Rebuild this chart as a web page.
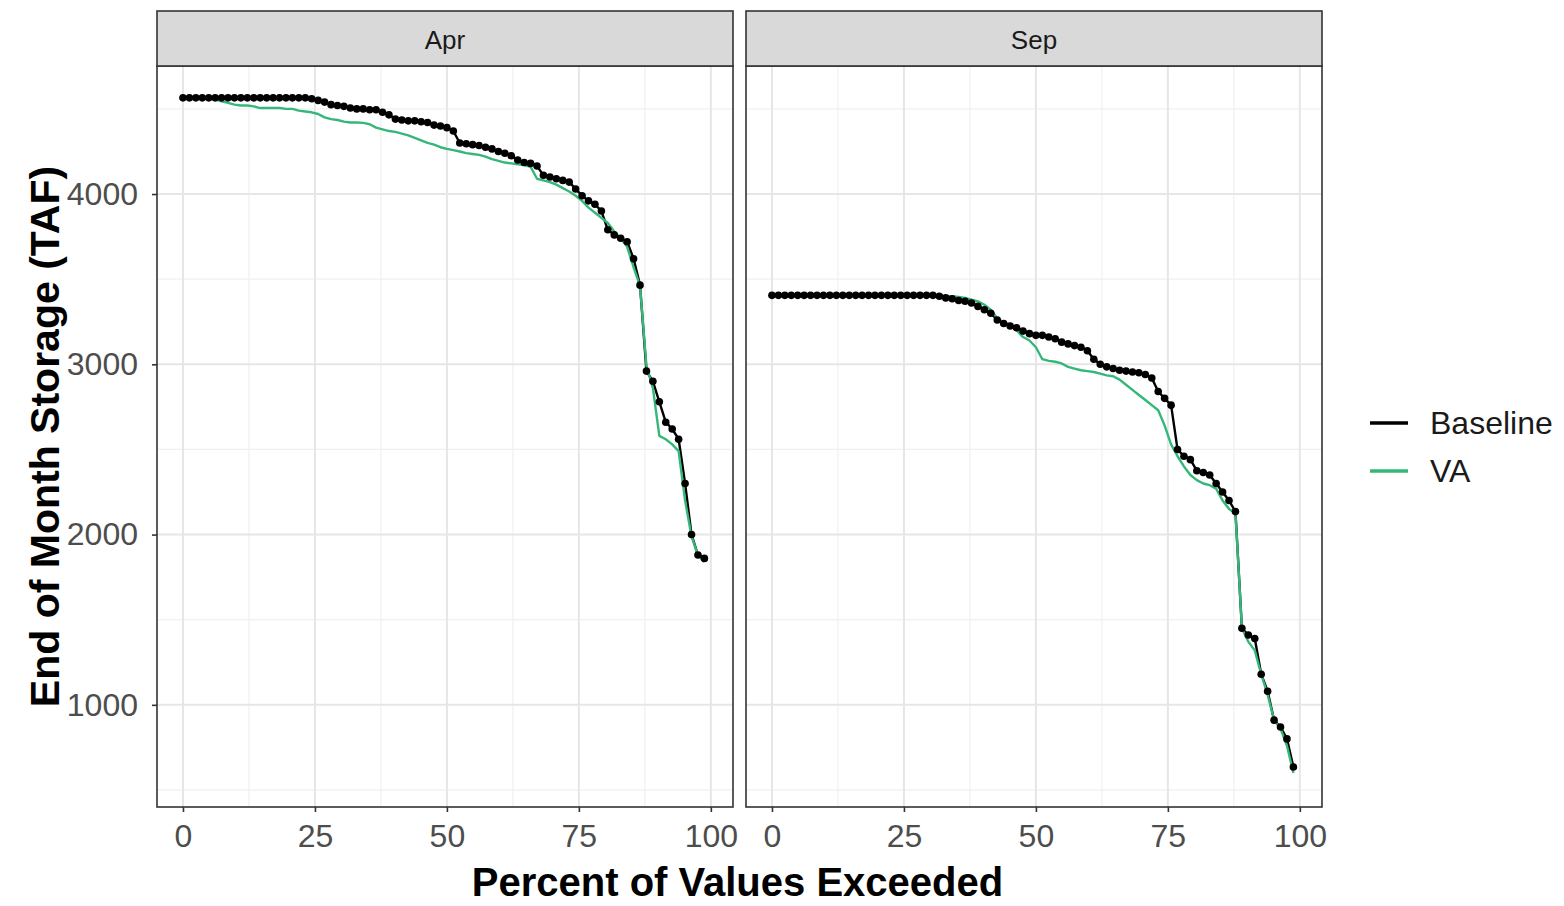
<!DOCTYPE html>
<html>
<head>
<meta charset="utf-8">
<script src="https://cdn.jsdelivr.net/npm/d3@7"></script>
<style>
  body { margin: 0; background: #fff; }
  text { font-family: "Liberation Sans", Arial, sans-serif; }
</style>
</head>
<body>
<div id="chartArea"></div>
<script>
// end-of-month storage (TAF), sorted high to low, one value per year
const months = ["Apr", "Sep"];
const seriesNames = ["Baseline", "VA"];
const seriesColors = ["#000000", "#35b779"];
const nYears = 82;

const aprBaseline = [
  4565, 4565, 4565, 4565, 4565, 4565, 4565, 4565, 4565, 4565,
  4565, 4565, 4565, 4565, 4565, 4565, 4565, 4565, 4565, 4565,
  4560, 4550, 4540, 4525, 4520, 4515, 4505, 4500, 4500, 4495,
  4495, 4480, 4465, 4440, 4435, 4430, 4430, 4425, 4420, 4405,
  4400, 4390, 4370, 4300, 4295, 4290, 4285, 4275, 4265, 4250,
  4240, 4225, 4200, 4185, 4180, 4165, 4110, 4100, 4090, 4080,
  4070, 4030, 3990, 3960, 3940, 3900, 3790, 3760, 3740, 3720,
  3620, 3465, 2960, 2900, 2780, 2660, 2620, 2560, 2300, 2000,
  1880, 1860
];
const aprVA = [
  4565, 4565, 4565, 4560, 4560, 4555, 4545, 4535, 4525, 4520,
  4520, 4515, 4505, 4505, 4505, 4505, 4500, 4500, 4490, 4485,
  4480, 4470, 4450, 4440, 4435, 4425, 4420, 4420, 4418, 4410,
  4390, 4380, 4370, 4365, 4355, 4345, 4330, 4315, 4300, 4290,
  4275, 4265, 4258, 4250, 4240, 4235, 4230, 4220, 4205, 4195,
  4185, 4180, 4175, 4170, 4160, 4090, 4080, 4070, 4055, 4035,
  4015, 3990, 3960, 3920, 3890, 3860, 3830, 3780, 3740, 3690,
  3570, 3460, 2990, 2860, 2580, 2560, 2530, 2490, 2200, 1990,
  1880, 1840
];
const sepBaseline = [
  3405, 3405, 3405, 3405, 3405, 3405, 3405, 3405, 3405, 3405,
  3405, 3405, 3405, 3405, 3405, 3405, 3405, 3405, 3405, 3405,
  3405, 3405, 3405, 3405, 3405, 3405, 3400, 3390, 3385, 3375,
  3370, 3360, 3340, 3320, 3300, 3260, 3240, 3225, 3215, 3195,
  3180, 3170, 3170, 3160, 3150, 3130, 3120, 3110, 3100, 3080,
  3030, 3000, 2985, 2975, 2965, 2960, 2955, 2950, 2940, 2920,
  2840, 2800, 2760, 2500, 2460, 2440, 2375, 2365, 2350, 2300,
  2250, 2200, 2135, 1450, 1410, 1390, 1180, 1080, 910, 870,
  800, 635
];
const sepVA = [
  3405, 3405, 3405, 3405, 3405, 3405, 3405, 3405, 3405, 3405,
  3405, 3405, 3405, 3405, 3405, 3405, 3405, 3405, 3405, 3405,
  3405, 3405, 3405, 3405, 3405, 3405, 3405, 3400, 3400, 3395,
  3390, 3380, 3370, 3350, 3320, 3270, 3245, 3235, 3200, 3160,
  3140, 3100, 3030, 3020, 3015, 3005, 2985, 2975, 2965, 2960,
  2955, 2945, 2935, 2930, 2910, 2880, 2850, 2820, 2790, 2760,
  2730, 2640, 2530, 2460, 2400, 2350, 2320, 2300, 2290, 2270,
  2200, 2150, 2125, 1450, 1370, 1320, 1180, 1060, 910, 860,
  760, 600
];

const xTicks = [0, 25, 50, 75, 100];
const yTicks = [1000, 2000, 3000, 4000];

(function() {
  const W = 1564;
  const H = 906;
  const panelW = 576;
  const panelLeft = [157, 746];
  const top = 66;
  const bottom = 807;
  const stripTop = 11;
  const ph = bottom - top;

  const panelData = {
    Apr: [aprBaseline, aprVA],
    Sep: [sepBaseline, sepVA]
  };

  const svg = d3
    .select("#chartArea")
    .append("svg")
    .attr("width", W)
    .attr("height", H);

  const xScale = d3
    .scaleLinear()
    .domain([-4.92, 104.2])
    .range([0, panelW]);

  const yScale = d3
    .scaleLinear()
    .domain([400, 4752])
    .range([ph, 0]);

  const line = d3
    .line()
    .x((d, i) => xScale((i * 100) / nYears))
    .y(d => yScale(d));

  months.forEach((m, k) => {
    const g = svg
      .append("g")
      .attr("transform", "translate(" + panelLeft[k] + "," + top + ")");

    // grid
    const minorX = [12.5, 37.5, 62.5, 87.5];
    const minorY = [500, 1500, 2500, 3500, 4500];
    g.selectAll(".minx")
      .data(minorX)
      .enter()
      .append("line")
      .attr("x1", d => xScale(d))
      .attr("x2", d => xScale(d))
      .attr("y1", 0)
      .attr("y2", ph)
      .attr("stroke", "#f0f0f0")
      .attr("stroke-width", 1.2);
    g.selectAll(".miny")
      .data(minorY)
      .enter()
      .append("line")
      .attr("x1", 0)
      .attr("x2", panelW)
      .attr("y1", d => yScale(d))
      .attr("y2", d => yScale(d))
      .attr("stroke", "#f0f0f0")
      .attr("stroke-width", 1.2);
    g.selectAll(".majx")
      .data(xTicks)
      .enter()
      .append("line")
      .attr("x1", d => xScale(d))
      .attr("x2", d => xScale(d))
      .attr("y1", 0)
      .attr("y2", ph)
      .attr("stroke", "#e6e6e6")
      .attr("stroke-width", 2);
    g.selectAll(".majy")
      .data(yTicks)
      .enter()
      .append("line")
      .attr("x1", 0)
      .attr("x2", panelW)
      .attr("y1", d => yScale(d))
      .attr("y2", d => yScale(d))
      .attr("stroke", "#e6e6e6")
      .attr("stroke-width", 2);

    // lines then baseline points
    const series = panelData[m];
    series.forEach((vals, s) => {
      g.append("path")
        .datum(vals)
        .attr("fill", "none")
        .attr("stroke", seriesColors[s])
        .attr("stroke-width", 2.4)
        .attr("stroke-linejoin", "round")
        .attr("d", line);
    });
    g.selectAll("circle")
      .data(series[0])
      .enter()
      .append("circle")
      .attr("cx", (d, i) => xScale((i * 100) / nYears))
      .attr("cy", d => yScale(d))
      .attr("r", 3.8)
      .attr("fill", "#000");

    // panel border
    g.append("rect")
      .attr("width", panelW)
      .attr("height", ph)
      .attr("fill", "none")
      .attr("stroke", "#333")
      .attr("stroke-width", 1.6);

    // strip
    g.append("rect")
      .attr("y", stripTop - top)
      .attr("width", panelW)
      .attr("height", top - stripTop)
      .attr("fill", "#d9d9d9")
      .attr("stroke", "#333")
      .attr("stroke-width", 1.6);
    g.append("text")
      .attr("x", panelW / 2)
      .attr("y", (stripTop - top) / 2)
      .attr("dy", "0.42em")
      .attr("text-anchor", "middle")
      .attr("font-size", 26)
      .attr("fill", "#1a1a1a")
      .text(m);

    // x axis
    const xAxis = d3
      .axisBottom(xScale)
      .tickValues(xTicks)
      .tickSize(5)
      .tickPadding(12);
    const xa = g
      .append("g")
      .attr("transform", "translate(0," + ph + ")")
      .call(xAxis);
    xa.select(".domain").remove();
    xa.selectAll("line").attr("stroke", "#333").attr("stroke-width", 1.6);
    xa.selectAll("text")
      .attr("font-size", 32)
      .attr("font-family", "Liberation Sans, Arial, sans-serif")
      .attr("fill", "#4d4d4d");

    if (k === 0) {
      const yAxis = d3
        .axisLeft(yScale)
        .tickValues(yTicks)
        .tickFormat(d3.format("d"))
        .tickSize(5)
        .tickPadding(14);
      const ya = g.append("g").call(yAxis);
      ya.select(".domain").remove();
      ya.selectAll("line").attr("stroke", "#333").attr("stroke-width", 1.6);
      ya.selectAll("text")
        .attr("font-size", 32)
        .attr("font-family", "Liberation Sans, Arial, sans-serif")
        .attr("fill", "#4d4d4d");
    }
  });

  // axis titles
  svg
    .append("text")
    .attr("x", (panelLeft[0] + panelLeft[1] + panelW) / 2 - 2)
    .attr("y", 896)
    .attr("text-anchor", "middle")
    .attr("font-size", 40)
    .attr("font-weight", "bold")
    .attr("fill", "#000")
    .text("Percent of Values Exceeded");

  svg
    .append("text")
    .attr("transform", "translate(59," + (top + ph / 2) + ") rotate(-90)")
    .attr("text-anchor", "middle")
    .attr("font-size", 41)
    .attr("font-weight", "bold")
    .attr("fill", "#000")
    .text("End of Month Storage (TAF)");

  // legend
  const legend = svg
    .selectAll(".legend")
    .data(seriesNames)
    .enter()
    .append("g")
    .attr("transform", (d, i) => "translate(1370," + (423 + i * 48) + ")");
  legend
    .append("line")
    .attr("x1", 0)
    .attr("x2", 38)
    .attr("stroke", (d, i) => seriesColors[i])
    .attr("stroke-width", 3.5);
  legend
    .append("text")
    .attr("x", 60)
    .attr("dy", "0.35em")
    .attr("font-size", 32)
    .attr("fill", "#1a1a1a")
    .text(d => d);
})();
</script>
</body>
</html>
